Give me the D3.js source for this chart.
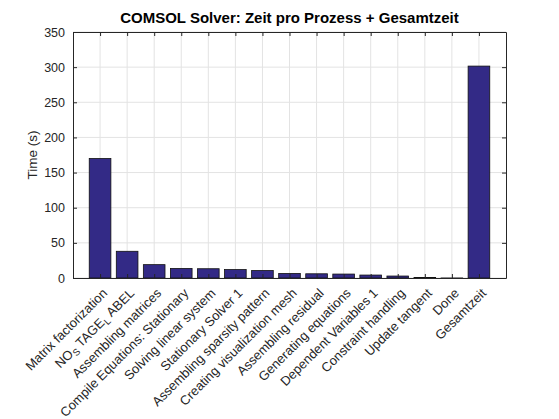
<!DOCTYPE html>
<html>
<head>
<meta charset="utf-8">
<script src="https://cdn.jsdelivr.net/npm/d3@7"></script>
<style>
  body { margin: 0; background: #fff; }
  svg { display: block; font-family: "Liberation Sans", Arial, Helvetica, sans-serif; }
</style>
</head>
<body>
<div id="chart"></div>
<script>
// process names (x categories), one entry per bar
const processes = [
    "Matrix factorization",
    "NO_STAGE_LABEL",
    "Assembling matrices",
    "Compile Equations: Stationary",
    "Solving linear system",
    "Stationary Solver 1",
    "Assembling sparsity pattern",
    "Creating visualization mesh",
    "Assembling residual",
    "Generating equations",
    "Dependent Variables 1",
    "Constraint handling",
    "Update tangent",
    "Done",
    "Gesamtzeit"
];

// seconds per process
const times = [170, 38, 19, 13.6, 13.2, 12, 10.6, 6.5, 6, 5.6, 4.2, 2.8, 0.8, 0.05, 301.5];

const yTicks = [0, 50, 100, 150, 200, 250, 300, 350];

const titleText = "COMSOL Solver: Zeit pro Prozess + Gesamtzeit";
const yLabel = "Time (s)";

const width = 559, height = 419;
const margin = { top: 32, right: 53, bottom: 141, left: 73 };
const plotW = width - margin.left - margin.right;
const plotH = height - margin.top - margin.bottom;

const axisColor = "#262626";
const gridColor = "#e3e3e3";
const barColor = "#332a86";

const svg = d3.select("#chart").append("svg")
    .attr("width", width)
    .attr("height", height);

svg.append("rect").attr("width", width).attr("height", height).attr("fill", "#fff");

const plot = svg.append("g")
    .attr("transform", "translate(" + margin.left + "," + margin.top + ")");

// MATLAB style: categories at 1..n, limits [0, n+1]
const x = d3.scaleLinear()
    .domain([0, processes.length + 1])
    .range([0, plotW]);

const y = d3.scaleLinear()
    .domain([0, 350])
    .range([plotH, 0]);

const idx = d3.range(1, processes.length + 1);

// grid
plot.append("g")
    .attr("class", "grid")
    .selectAll("line.gx")
    .data(idx)
    .join("line")
    .attr("x1", d => x(d)).attr("x2", d => x(d))
    .attr("y1", 0).attr("y2", plotH)
    .attr("stroke", gridColor).attr("stroke-width", 1);

plot.append("g")
    .attr("class", "grid")
    .selectAll("line.gy")
    .data(yTicks)
    .join("line")
    .attr("x1", 0).attr("x2", plotW)
    .attr("y1", d => y(d)).attr("y2", d => y(d))
    .attr("stroke", gridColor).attr("stroke-width", 1);

// bars
const barW = x(0.8) - x(0);
plot.selectAll("rect.bar")
    .data(times)
    .join("rect")
    .attr("class", "bar")
    .attr("x", (d, i) => x(i + 1) - barW / 2)
    .attr("y", d => y(d))
    .attr("width", barW)
    .attr("height", d => plotH - y(d))
    .attr("fill", barColor)
    .attr("stroke", "#111")
    .attr("stroke-width", 0.8);

// axes, ticks pointing inward
const tickLen = 4;
const styleAxis = g => {
    g.select(".domain").attr("stroke", axisColor);
    g.selectAll(".tick line").attr("stroke", axisColor);
    g.selectAll(".tick text").attr("fill", axisColor).style("font-size", "12.5px");
};

plot.append("g")
    .attr("transform", "translate(0," + plotH + ")")
    .call(d3.axisBottom(x).tickValues(idx).tickSize(-tickLen).tickSizeOuter(0).tickFormat(""))
    .call(styleAxis);

plot.append("g")
    .call(d3.axisTop(x).tickValues(idx).tickSize(-tickLen).tickSizeOuter(0).tickFormat(""))
    .call(styleAxis);

plot.append("g")
    .call(d3.axisLeft(y).tickValues(yTicks).tickSize(-tickLen).tickSizeOuter(0).tickPadding(8))
    .call(styleAxis)
    .call(g => g.style("font-family", null));

plot.append("g")
    .attr("transform", "translate(" + plotW + ",0)")
    .call(d3.axisRight(y).tickValues(yTicks).tickSize(-tickLen).tickSizeOuter(0).tickFormat(""))
    .call(styleAxis);

// rotated category labels (TeX style: "_X" becomes a subscript)
const xLabels = plot.append("g").attr("class", "xlabels");
processes.forEach((name, i) => {
    const t = xLabels.append("text")
        .attr("transform", "translate(" + (x(i + 1) + 8) + "," + (plotH + 16) + ") rotate(-45)")
        .attr("text-anchor", "end")
        .attr("fill", axisColor)
        .style("font-size", "13px");
    const parts = name.split("_");
    parts.forEach((p, k) => {
        if (k === 0) {
            t.append("tspan").text(p);
        } else {
            t.append("tspan").attr("dy", 3).attr("dx", 0.5).style("font-size", "9.5px").text(p[0]);
            t.append("tspan").attr("dy", -3).attr("dx", 3).text(p.slice(1));
        }
    });
});

// title + y label
svg.append("text")
    .attr("x", margin.left + plotW / 2)
    .attr("y", 23)
    .attr("text-anchor", "middle")
    .attr("font-weight", "bold")
    .attr("fill", "#000")
    .style("font-size", "15px")
    .text(titleText);

svg.append("text")
    .attr("transform", "translate(37," + (margin.top + plotH / 2) + ") rotate(-90)")
    .attr("text-anchor", "middle")
    .attr("fill", axisColor)
    .style("font-size", "13.5px")
    .text(yLabel);
</script>
</body>
</html>
